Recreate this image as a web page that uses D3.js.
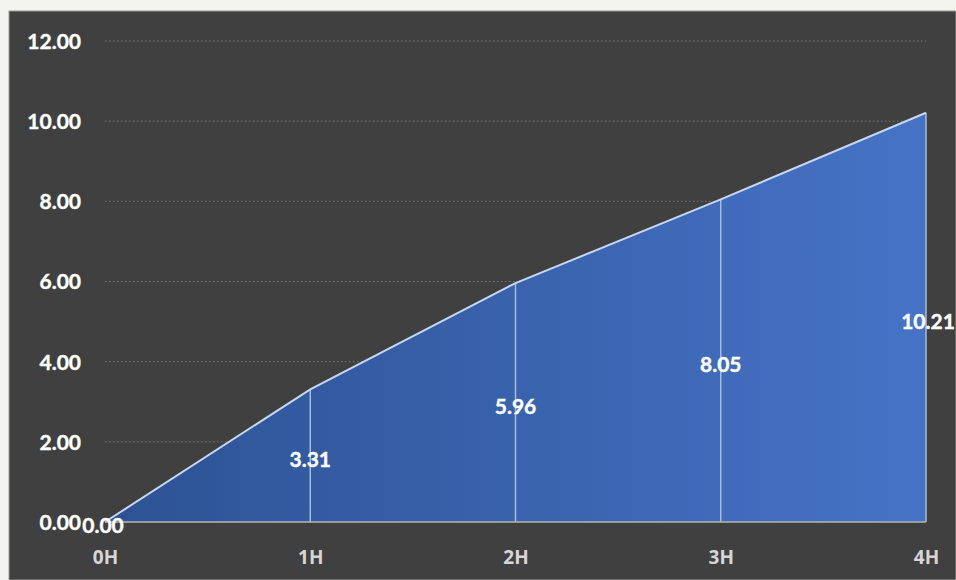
<!DOCTYPE html>
<html><head><meta charset="utf-8">
<script src="https://cdn.jsdelivr.net/npm/d3@7"></script>
<style>html,body{margin:0;padding:0;background:#f3f3ef;}svg{display:block;}</style>
</head><body>
<svg id="c" width="956" height="580"></svg>
<script>
const categories = ["0H","1H","2H","3H","4H"];
const values = [0.00, 3.31, 5.96, 8.05, 10.21];
const yTicks = [0, 2, 4, 6, 8, 10, 12];

const svg = d3.select("#c");
const W = 956, H = 580;
const m = {left:105, right:30, top:41, bottom:58};

svg.append("rect").attr("x",9).attr("y",11).attr("width",W-9).attr("height",H-11)
  .attr("fill","#404040").attr("stroke","#9a9a9a").attr("stroke-width",1);

const x = d3.scalePoint().domain(categories).range([m.left, W - m.right]);
const y = d3.scaleLinear().domain([0,12]).range([H - m.bottom, m.top]);

const defs = svg.append("defs");
const g = defs.append("linearGradient").attr("id","grad")
  .attr("gradientUnits","userSpaceOnUse")
  .attr("x1", x(categories[0])).attr("x2", x(categories[categories.length-1])).attr("y1",0).attr("y2",0);
g.append("stop").attr("offset","0%").attr("stop-color","#2d5294");
g.append("stop").attr("offset","100%").attr("stop-color","#4673c6");

// gridlines
svg.append("g").selectAll("line").data(yTicks.filter(d=>d>0)).join("line")
  .attr("x1", m.left).attr("x2", W - m.right)
  .attr("y1", d=>y(d)).attr("y2", d=>y(d))
  .attr("stroke","#7a7a7a").attr("stroke-width",1).attr("stroke-dasharray","1.5,2.5");

const data = categories.map((c,i)=>({c, v: values[i]}));

svg.append("path").datum(data)
  .attr("d", d3.area().x(d=>x(d.c)).y0(y(0)).y1(d=>y(d.v)))
  .attr("fill","url(#grad)");

// drop lines
svg.append("g").selectAll("line").data(data.slice(1)).join("line")
  .attr("x1", d=>x(d.c)).attr("x2", d=>x(d.c))
  .attr("y1", d=>y(d.v)).attr("y2", y(0))
  .attr("stroke","#aabbd8").attr("stroke-width",1.5);

svg.append("path").datum(data)
  .attr("d", d3.line().x(d=>x(d.c)).y(d=>y(d.v)))
  .attr("fill","none").attr("stroke","#c8d6ee").attr("stroke-width",2);

// baseline
svg.append("line").attr("x1", m.left).attr("x2", W - m.right)
  .attr("y1", y(0)).attr("y2", y(0)).attr("stroke","#b4b4b4").attr("stroke-width",1.5);

const font = "Lato, 'Open Sans', sans-serif";

// y axis
const yAxis = d3.axisLeft(y).tickValues(yTicks).tickFormat(d3.format(".2f")).tickSize(0).tickPadding(0);
const ya = svg.append("g").attr("transform",`translate(81,0)`).call(yAxis);
ya.select(".domain").remove();
ya.selectAll("text").attr("fill","#ffffff").attr("stroke","#ffffff").attr("stroke-width",0.4)
  .attr("font-family",font).attr("font-weight","bold").attr("font-size","21px").attr("dy","0.35em");

// x axis
const xAxis = d3.axisBottom(x).tickSize(0).tickPadding(0);
const xa = svg.append("g").attr("transform",`translate(0,${H-23})`).call(xAxis);
xa.select(".domain").remove();
xa.selectAll("text").attr("fill","#d6d6d6").attr("font-family","'Open Sans', sans-serif").attr("font-weight","bold").attr("font-size","19px").attr("dy","0.35em");

// data labels
svg.append("g").selectAll("text").data(data).join("text")
  .attr("x", (d,i)=> i===0 ? x(d.c)-2 : (i===data.length-1 ? x(d.c)+2 : x(d.c)))
  .attr("y", d=> (y(d.v)+y(0))/2 + 4)
  .attr("dy","0.35em")
  .attr("text-anchor","middle")
  .attr("fill","#ffffff").attr("stroke","#ffffff").attr("stroke-width",0.4)
  .attr("font-family",font).attr("font-weight","bold").attr("font-size","21px")
  .text(d=>d3.format(".2f")(d.v));
</script>
</body></html>
